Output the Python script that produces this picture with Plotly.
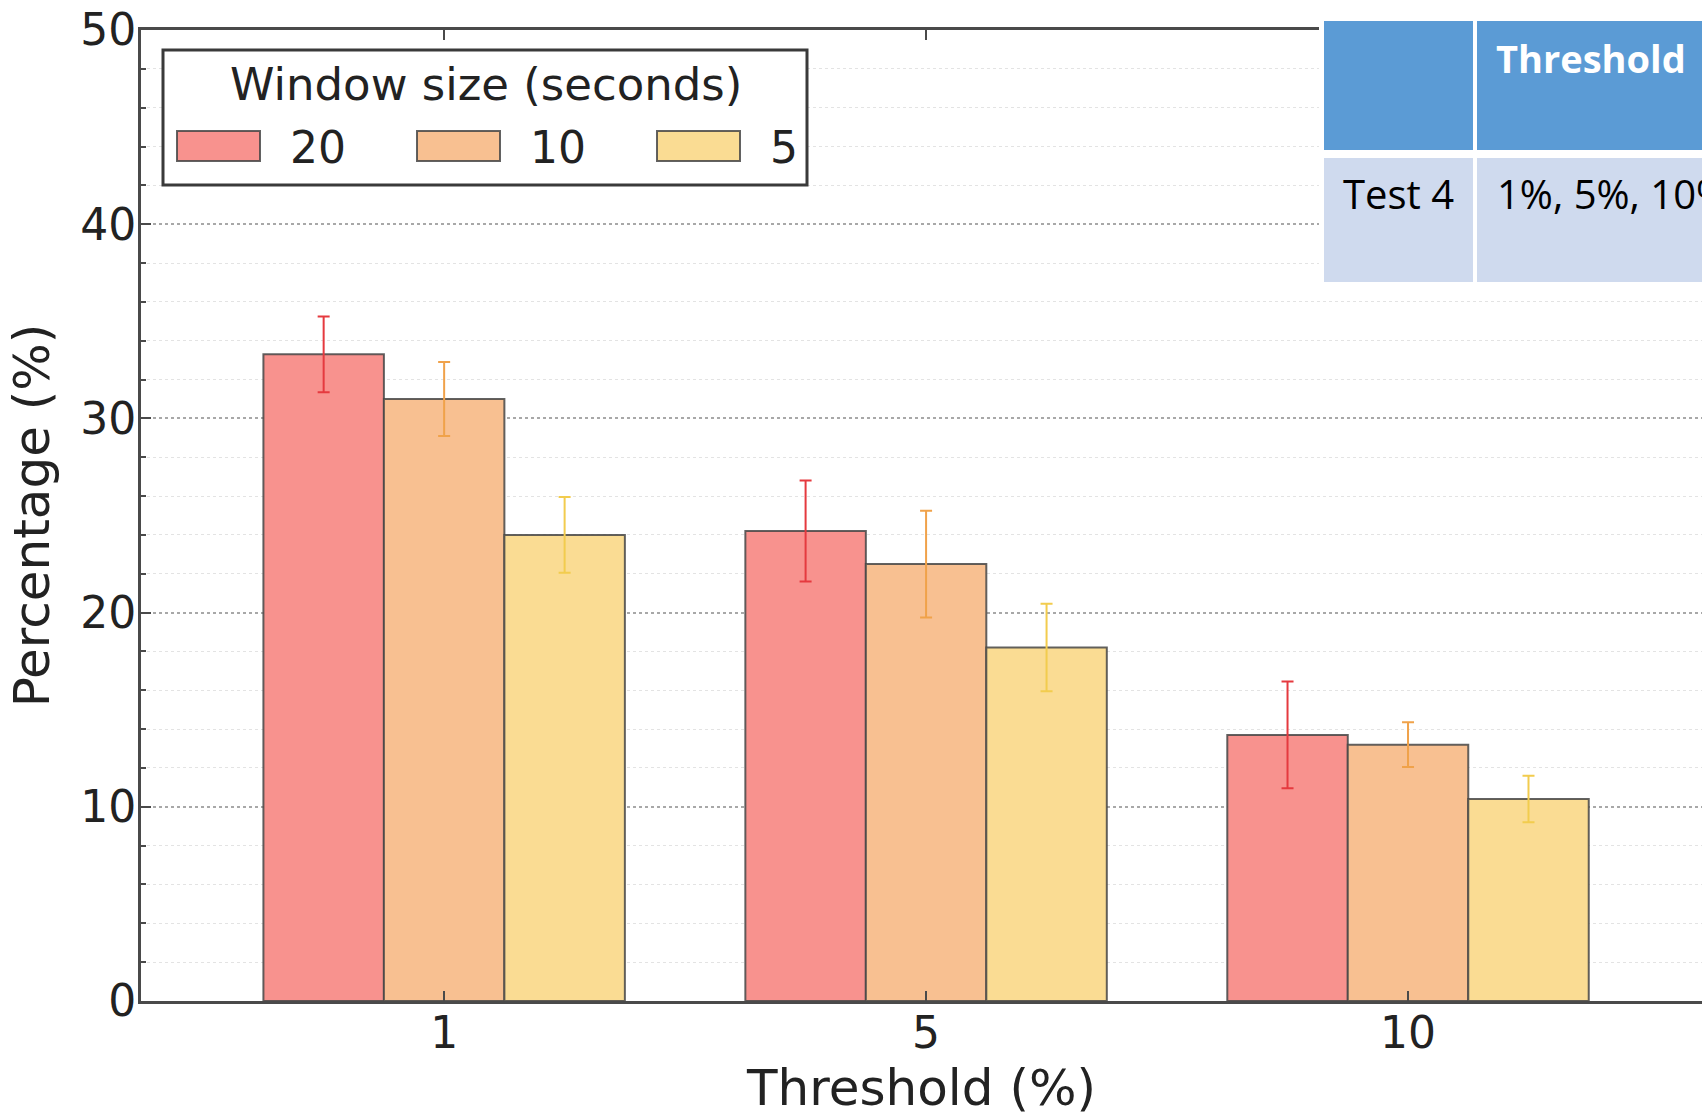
import plotly.graph_objects as go

# ---- data ----
categories = ["1", "5", "10"]
series_names = ["20", "10", "5"]
values_20 = [33.3, 24.2, 13.7]
values_10 = [31.0, 22.5, 13.2]
values_5 = [24.0, 18.2, 10.4]
errors_20 = [1.95, 2.6, 2.75]
errors_10 = [1.9, 2.75, 1.15]
errors_5 = [1.95, 2.25, 1.2]
y_ticks = [0, 10, 20, 30, 40, 50]

table_header = ["", "Threshold"]
table_row = ["Test 4", "1%, 5%, 10%"]

# ---- style ----
W, H = 1702, 1117
ML, MR, MT, MB = 141, 0, 30, 116
PW, PH = W - ML - MR, H - MT - MB
FONT = "DejaVu Sans"
fill_colors = ["#F8928E", "#F8C091", "#FADC93"]
err_colors = ["#E53A3F", "#F0A24A", "#F2CC4E"]
edge = "rgba(70,70,70,0.85)"
axis_col = "#4a4a4a"


def px(x):
    return (x - ML) / PW


def py(y):
    return (H - MB - y) / PH


fig = go.Figure()
xs = list(range(len(categories)))
all_vals = [values_20, values_10, values_5]
all_errs = [errors_20, errors_10, errors_5]
for name, vals, errs, fc, ec in zip(series_names, all_vals, all_errs, fill_colors, err_colors):
    fig.add_trace(go.Bar(
        x=xs, y=vals, name=name,
        marker=dict(color=fc, line=dict(color=edge, width=2)),
        error_y=dict(type="data", array=errs, color=ec, thickness=2, width=6),
        showlegend=False,
    ))

fig.update_layout(
    width=W, height=H,
    margin=dict(l=ML, r=MR, t=MT, b=MB, pad=0),
    plot_bgcolor="white", paper_bgcolor="white",
    barmode="group", bargap=0.25, bargroupgap=0,
    font=dict(family=FONT, color="#222222", size=44),
)
fig.update_xaxes(
    range=[-0.629, 2.61],
    tickmode="array", tickvals=xs, ticktext=categories,
    tickfont=dict(size=44, family=FONT, color="#222"),
    ticks="inside", ticklen=10, tickwidth=2, tickcolor=axis_col,
    ticklabelstandoff=-9,
    showline=True, linecolor=axis_col, linewidth=3, mirror="ticks",
    showgrid=False, zeroline=False,
    title=dict(text="Threshold (%)", font=dict(size=50, family=FONT, color="#222"), standoff=19),
)
fig.update_yaxes(
    range=[0, 50],
    tickmode="array", tickvals=y_ticks,
    tickfont=dict(size=44, family=FONT, color="#222"),
    ticks="inside", ticklen=10, tickwidth=2, tickcolor=axis_col,
    ticklabelstandoff=-7,
    showline=True, linecolor=axis_col, linewidth=3, mirror=False,
    showgrid=True, gridcolor="#a8a8a8", gridwidth=2, griddash="dot",
    zeroline=False,
    minor=dict(dtick=2, ticks="inside", ticklen=5, tickcolor=axis_col,
               showgrid=True, gridcolor="#e3e3e3", gridwidth=1, griddash="dot"),
    title=dict(text="Percentage (%)", font=dict(size=50, family=FONT, color="#222"), standoff=15),
)

shapes = []
annotations = []

# ---- legend (drawn manually) ----
shapes.append(dict(type="rect", xref="paper", yref="paper",
                   x0=px(163), x1=px(807), y0=py(185), y1=py(50),
                   fillcolor="white", line=dict(color="#3a3a3a", width=3), layer="above"))
annotations.append(dict(xref="paper", yref="paper", x=px(486), y=py(85),
                        text="Window size (seconds)", showarrow=False,
                        xanchor="center", yanchor="middle",
                        font=dict(size=45, family=FONT, color="#222")))
for i, (name, fc) in enumerate(zip(series_names, fill_colors)):
    x0 = 177 + i * 240
    shapes.append(dict(type="rect", xref="paper", yref="paper",
                       x0=px(x0), x1=px(x0 + 83), y0=py(161), y1=py(131),
                       fillcolor=fc, line=dict(color=edge, width=2), layer="above"))
    annotations.append(dict(xref="paper", yref="paper", x=px(x0 + 111), y=py(147),
                            text=name, showarrow=False, xanchor="left", yanchor="middle",
                            font=dict(size=44, family=FONT, color="#222")))

# ---- overlaid table ----
shapes.append(dict(type="rect", xref="paper", yref="paper",
                   x0=px(1319), x1=px(W + 5), y0=py(286), y1=py(-5),
                   fillcolor="white", line=dict(width=0), layer="above"))
cells = [
    (1324, 1473, 21, 150, "#5B9BD5"),
    (1477, W + 5, 21, 150, "#5B9BD5"),
    (1324, 1473, 158, 282, "#CFDAEE"),
    (1477, W + 5, 158, 282, "#CFDAEE"),
]
for x0, x1, y0, y1, c in cells:
    shapes.append(dict(type="rect", xref="paper", yref="paper",
                       x0=px(x0), x1=px(x1), y0=py(y1), y1=py(y0),
                       fillcolor=c, line=dict(width=0), layer="above"))
annotations.append(dict(xref="paper", yref="paper", x=px(1494), y=py(58),
                        text="<b>" + table_header[1] + "</b>", showarrow=False,
                        xanchor="left", yanchor="middle",
                        font=dict(size=38, family="Open Sans", color="white")))
annotations.append(dict(xref="paper", yref="paper", x=px(1341), y=py(193),
                        text=table_row[0], showarrow=False,
                        xanchor="left", yanchor="middle",
                        font=dict(size=40, family="Open Sans", color="black")))
annotations.append(dict(xref="paper", yref="paper", x=px(1495), y=py(193),
                        text=table_row[1], showarrow=False,
                        xanchor="left", yanchor="middle",
                        font=dict(size=40, family="Open Sans", color="black")))

fig.update_layout(shapes=shapes, annotations=annotations)
fig.write_html("out.html", config={"displayModeBar": False},
               post_script="document.body.style.margin='0px';document.body.style.overflow='hidden';")
